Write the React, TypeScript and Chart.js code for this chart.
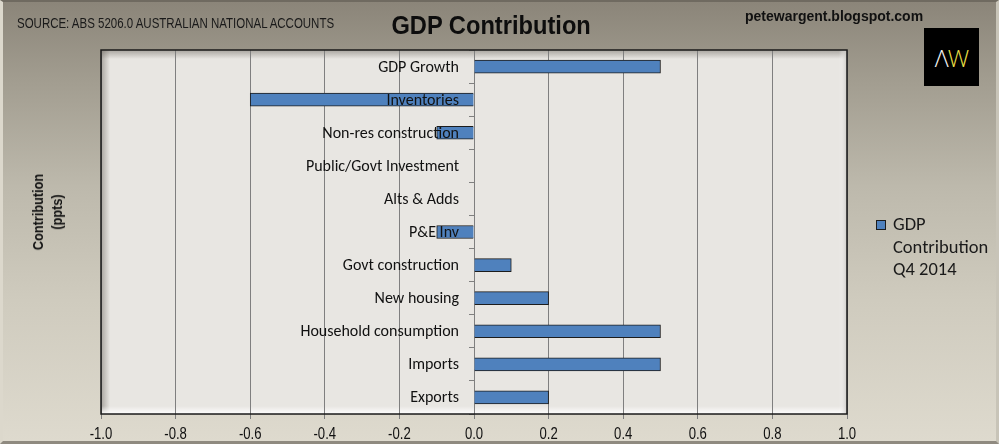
import React, { useEffect, useRef } from "react";
import { Chart, registerables } from "chart.js";

Chart.register(...registerables);

// Chart data
const categories = [
  "GDP Growth",
  "Inventories",
  "Non-res construction",
  "Public/Govt Investment",
  "Alts & Adds",
  "P&E Inv",
  "Govt construction",
  "New housing",
  "Household consumption",
  "Imports",
  "Exports",
];
const contribution = [0.5, -0.6, -0.1, 0, 0, -0.1, 0.1, 0.2, 0.5, 0.5, 0.2];
const seriesLabel = "GDP Contribution Q4 2014";
const legendLines = ["GDP", "Contribution", "Q4 2014"];
const xTickMin = -1.0;
const xTickMax = 1.0;
const xTickStep = 0.2;

const ARIAL = "'Liberation Sans', Arial, sans-serif";
const CALIBRI = "Carlito, Calibri, Lato, sans-serif";
const NARROW_SCALE = 0.82; // no Arial Narrow installed, squeeze Arial instead

// plot area background, bevel and border
const plotFrame = {
  id: "plotFrame",
  beforeDraw(chart: any) {
    const { ctx, chartArea: a } = chart;
    const w = a.right - a.left;
    const h = a.bottom - a.top;
    ctx.save();
    ctx.fillStyle = "#e8e6e2";
    ctx.fillRect(a.left, a.top, w, h);

    let g = ctx.createLinearGradient(0, a.top, 0, a.top + 9);
    g.addColorStop(0, "rgba(105,100,92,0.5)");
    g.addColorStop(1, "rgba(105,100,92,0)");
    ctx.fillStyle = g;
    ctx.fillRect(a.left, a.top, w, 9);

    g = ctx.createLinearGradient(a.left, 0, a.left + 9, 0);
    g.addColorStop(0, "rgba(105,100,92,0.5)");
    g.addColorStop(1, "rgba(105,100,92,0)");
    ctx.fillStyle = g;
    ctx.fillRect(a.left, a.top, 9, h);

    g = ctx.createLinearGradient(0, a.bottom - 8, 0, a.bottom);
    g.addColorStop(0, "rgba(255,255,255,0)");
    g.addColorStop(1, "rgba(255,255,255,0.95)");
    ctx.fillStyle = g;
    ctx.fillRect(a.left, a.bottom - 8, w, 8);

    g = ctx.createLinearGradient(a.right - 8, 0, a.right, 0);
    g.addColorStop(0, "rgba(255,255,255,0)");
    g.addColorStop(1, "rgba(200,198,194,0.9)");
    ctx.fillStyle = g;
    ctx.fillRect(a.right - 8, a.top, 8, h);
    ctx.restore();
  },
  afterDraw(chart: any) {
    const { ctx, chartArea: a } = chart;
    ctx.save();
    ctx.strokeStyle = "#1a1a1a";
    ctx.lineWidth = 1.5;
    ctx.strokeRect(a.left, a.top, a.right - a.left, a.bottom - a.top);
    ctx.restore();
  },
};

// Excel-style labels: categories next to the zero line, drawn over the bars,
// and narrow x tick labels
const axisLabels = {
  id: "axisLabels",
  afterDraw(chart: any) {
    const { ctx } = chart;
    const xs = chart.scales.x;
    const ys = chart.scales.y;
    const x0 = xs.getPixelForValue(0);
    ctx.save();
    ctx.font = `16px ${CALIBRI}`;
    ctx.fillStyle = "#111";
    ctx.textAlign = "right";
    ctx.textBaseline = "middle";
    ys.ticks.forEach((_t: any, i: number) => {
      ctx.fillText(String(chart.data.labels[i]), x0 - 15, ys.getPixelForTick(i) + 1);
    });

    ctx.font = `16px ${ARIAL}`;
    ctx.textAlign = "center";
    ctx.fillStyle = "#111";
    xs.ticks.forEach((t: any) => {
      const v = Math.abs(t.value) < 1e-9 ? 0 : t.value;
      const px = xs.getPixelForValue(t.value);
      ctx.save();
      ctx.translate(px, xs.top + 21);
      ctx.scale(NARROW_SCALE, 1);
      ctx.fillText(v.toFixed(1), 0, 0);
      ctx.restore();
    });
    ctx.restore();
  },
};

const App: React.FC = () => {
  const chartRef = useRef<HTMLCanvasElement>(null);
  const chartInstance = useRef<Chart | null>(null);

  useEffect(() => {
    document.body.style.margin = "0";
    if (!chartRef.current) return;
    if (chartInstance.current) chartInstance.current.destroy();

    const ctx = chartRef.current.getContext("2d");
    if (ctx) {
      chartInstance.current = new Chart(ctx, {
        type: "bar",
        data: {
          labels: categories,
          datasets: [
            {
              label: seriesLabel,
              data: contribution,
              backgroundColor: "#4f81bd",
              borderColor: "#1c1c1c",
              borderWidth: 1,
              barThickness: 13,
            },
          ],
        },
        options: {
          indexAxis: "y",
          responsive: false,
          animation: false,
          devicePixelRatio: 1,
          layout: { padding: { left: 101, top: 50, right: 152, bottom: 0 } },
          plugins: {
            legend: { display: false },
            title: { display: false },
            tooltip: { enabled: false },
          },
          scales: {
            x: {
              type: "linear",
              min: xTickMin,
              max: xTickMax,
              ticks: { stepSize: xTickStep, display: false },
              grid: { color: "#7f7f7f", lineWidth: 1, tickLength: 5 },
              border: { display: false },
              afterFit: (s: any) => {
                s.height = 30;
              },
            },
            y: {
              type: "category",
              position: { x: 0 } as any,
              offset: true,
              ticks: { autoSkip: false, display: false },
              grid: {
                drawOnChartArea: false,
                offset: true,
                tickLength: 5,
                color: "#7f7f7f",
              },
              border: { display: true, color: "#7f7f7f" },
            },
          },
        },
        plugins: [plotFrame, axisLabels],
      } as any);
    }

    return () => {
      if (chartInstance.current) {
        chartInstance.current.destroy();
        chartInstance.current = null;
      }
    };
  }, []);

  return (
    <div
      style={{
        position: "relative",
        width: 999,
        height: 444,
        boxSizing: "border-box",
        overflow: "hidden",
        background:
          "linear-gradient(180deg, #8b8579 0%, #a29d90 18%, #bdb9ac 42%, #cfcbbe 68%, #dedace 100%)",
        borderTop: "2px solid #6f6a60",
        borderLeft: "3px solid #dcd8cc",
        borderRight: "3px solid #c8c4b8",
        borderBottom: "3px solid #8f8a80",
      }}
    >
      <canvas
        ref={chartRef}
        width={999}
        height={444}
        style={{ position: "absolute", left: -3, top: -2, display: "block" }}
      ></canvas>

      <div
        style={{
          position: "absolute",
          left: 14,
          top: 13,
          fontFamily: ARIAL,
          fontSize: 14,
          color: "#1a1a1a",
          whiteSpace: "nowrap",
          transform: `scaleX(${NARROW_SCALE})`,
          transformOrigin: "left center",
        }}
      >
        SOURCE: ABS 5206.0 AUSTRALIAN NATIONAL ACCOUNTS
      </div>

      <div
        style={{
          position: "absolute",
          left: 382 - 3,
          top: 8,
          width: 210,
          textAlign: "center",
          fontFamily: ARIAL,
          fontWeight: "bold",
          fontSize: 26,
          color: "#0d0d0d",
          whiteSpace: "nowrap",
          transform: "scaleX(0.91)",
          transformOrigin: "center center",
        }}
      >
        GDP Contribution
      </div>

      <div
        style={{
          position: "absolute",
          left: 742,
          top: 6,
          fontFamily: ARIAL,
          fontWeight: "bold",
          fontSize: 14,
          color: "#111",
          whiteSpace: "nowrap",
        }}
      >
        petewargent.blogspot.com
      </div>

      <div
        style={{
          position: "absolute",
          left: 921,
          top: 26,
          width: 55,
          height: 58,
          background: "#000",
          display: "flex",
          alignItems: "center",
          justifyContent: "center",
          fontFamily: "'Open Sans', 'DejaVu Sans', sans-serif",
          fontWeight: 300,
          fontSize: 24,
          letterSpacing: -1,
        }}
      >
        <span style={{ color: "#f2f2f2" }}>Λ</span>
        <span style={{ color: "#e8df45" }}>W</span>
      </div>

      <div
        style={{
          position: "absolute",
          left: 48 - 3 - 60,
          top: 212 - 2 - 20,
          width: 120,
          height: 40,
          transform: `rotate(-90deg) scaleX(${NARROW_SCALE})`,
          textAlign: "center",
          fontFamily: ARIAL,
          fontWeight: "bold",
          fontSize: 15.5,
          lineHeight: "19px",
          color: "#111",
        }}
      >
        Contribution
        <br />
        (ppts)
      </div>

      <div
        style={{
          position: "absolute",
          left: 873,
          top: 211,
          fontFamily: CALIBRI,
          fontSize: 18.5,
          lineHeight: "22.5px",
          color: "#1a1a1a",
        }}
      >
        <span
          style={{
            position: "absolute",
            left: 0,
            top: 7,
            width: 8,
            height: 8,
            background: "#4f81bd",
            border: "1px solid #1c1c1c",
          }}
        ></span>
        <div style={{ paddingLeft: 17 }}>
          {legendLines.map((l) => (
            <div key={l}>{l}</div>
          ))}
        </div>
      </div>
    </div>
  );
};

export default App;
